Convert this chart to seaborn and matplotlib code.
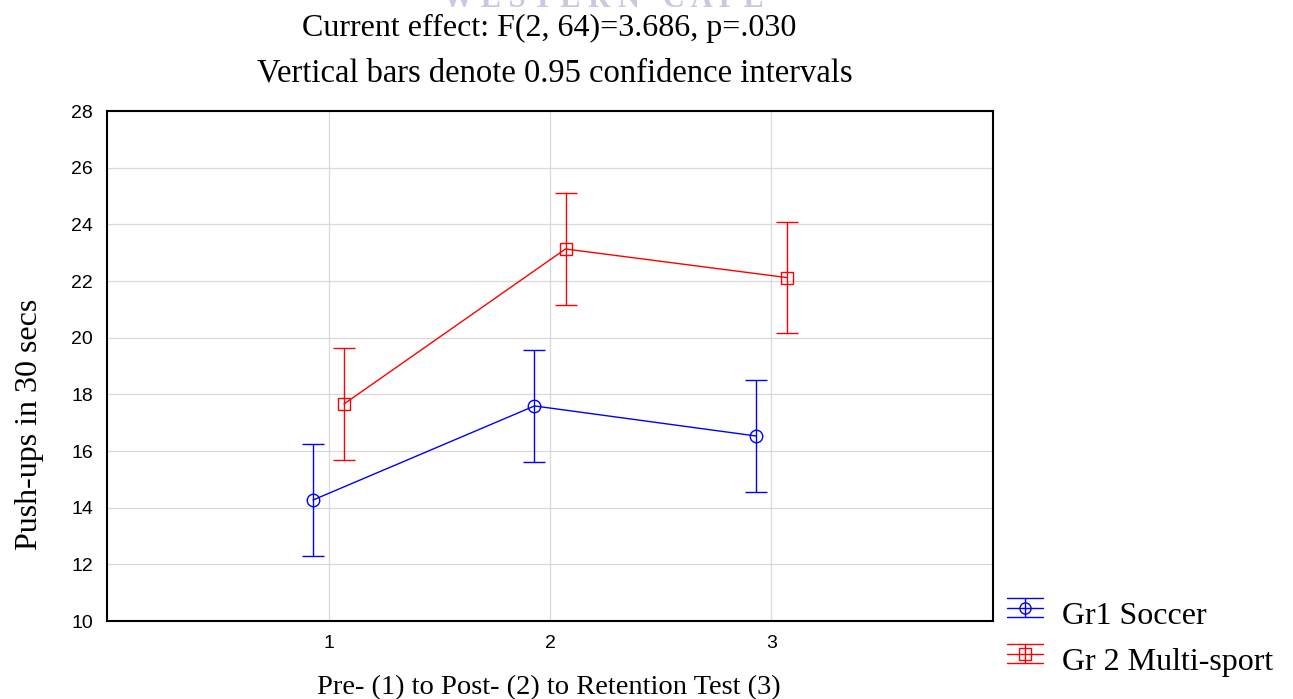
import numpy as np
import pandas as pd
import matplotlib
matplotlib.use("Agg")
import matplotlib.pyplot as plt
from matplotlib.lines import Line2D
from matplotlib.legend_handler import HandlerBase
import seaborn as sns

# ---- data ----
tests = [1, 2, 3]
groups = ["Gr1 Soccer", "Gr 2 Multi-sport"]
soccer_mean = [14.27, 17.59, 16.53]
soccer_ci = [1.98, 1.98, 1.98]
multi_mean = [17.66, 23.13, 22.12]
multi_ci = [1.97, 1.97, 1.97]
y_ticks = [10, 12, 14, 16, 18, 20, 22, 24, 26, 28]
x_ticks = [1, 2, 3]

colors = {"Gr1 Soccer": "#0000ff", "Gr 2 Multi-sport": "#ff0000"}
markers = {"Gr1 Soccer": "o", "Gr 2 Multi-sport": "s"}
offsets = {"Gr1 Soccer": -0.07, "Gr 2 Multi-sport": 0.07}

df = pd.DataFrame({
    "test": tests * 2,
    "group": [groups[0]] * 3 + [groups[1]] * 3,
    "mean": soccer_mean + multi_mean,
    "ci": soccer_ci + multi_ci,
})
df["xpos"] = df["test"] + df["group"].map(offsets)

sns.set_style("whitegrid")
plt.rcParams["font.family"] = ["Liberation Serif", "DejaVu Serif"]
plt.rcParams["text.color"] = "black"
plt.rcParams["xtick.color"] = "black"
plt.rcParams["ytick.color"] = "black"

fig = plt.figure(figsize=(12.93, 6.99), dpi=100)
ax = fig.add_axes([107 / 1293, 1 - 621 / 699, (993 - 107) / 1293, (621 - 111) / 699])

for g in groups:
    sub = df[df["group"] == g]
    cont = ax.errorbar(sub["xpos"], sub["mean"], yerr=sub["ci"], fmt="none",
                       ecolor=colors[g], elinewidth=1.0, capsize=8, capthick=1.0, zorder=3)
    for cap in cont[1]:
        cap.set_color(colors[g])
        cap.set_markeredgecolor(colors[g])
        cap.set_markerfacecolor(colors[g])

sns.lineplot(data=df, x="xpos", y="mean", hue="group", style="group",
             palette=colors, markers=markers, dashes=False, sort=False,
             linewidth=1.0, markersize=9, markerfacecolor="none",
             markeredgewidth=1.0, legend=False, ax=ax, zorder=4)
for ln in ax.lines:
    if ln.get_linestyle() != "None":
        ln.set_markeredgecolor(ln.get_color())
        ln.set_markerfacecolor("none")

ax.set_xlim(0, 4)
ax.set_ylim(10, 28)
ax.set_xticks(x_ticks)
ax.set_yticks(y_ticks)
ax.set_xticklabels([str(t) for t in x_ticks], family="Liberation Sans", fontsize=14, color="black")
ax.set_yticklabels([str(t) for t in y_ticks], family="Liberation Sans", fontsize=14, color="black")
ax.tick_params(axis="both", direction="in", length=4, width=0.8, color="black", pad=10)
ax.grid(True, color="#d9d9d9", linewidth=0.9)
for s in ax.spines.values():
    s.set_color("black")
    s.set_linewidth(1.5)

ax.set_xlabel("")
ax.set_ylabel("")
fig.text(549 / 1293, 1 - 688 / 699, "Pre- (1) to Post- (2) to Retention Test (3)",
         ha="center", va="center", fontsize=20.5, color="black")
fig.text(29 / 1293, 1 - 424 / 699, "Push-ups in 30 secs", rotation=90,
         ha="center", va="center", fontsize=23, color="black")

fig.text(549.5 / 1293, 1 - 28 / 699, "Current effect: F(2, 64)=3.686, p=.030",
         ha="center", va="center", fontsize=23, color="black")
fig.text(554.5 / 1293, 1 - 73 / 699, "Vertical bars denote 0.95 confidence intervals",
         ha="center", va="center", fontsize=23.5, color="black")
fig.text(603 / 1293, 1 - 7 / 699, "W E S T E R N   C A P E", ha="center", va="baseline",
         fontsize=22, color="#c8c8e2", fontweight="bold")


class ErrHandler(HandlerBase):
    def __init__(self, color, marker):
        super().__init__()
        self.color = color
        self.marker = marker

    def create_artists(self, legend, orig_handle, xd, yd, width, height, fontsize, trans):
        x0 = xd
        x1 = xd + width
        cx = (x0 + x1) / 2
        mid = yd + height / 2 + 0.22 * height
        half = 0.42 * height
        top = mid + half
        bot = mid - half
        arts = [
            Line2D([x0, x1], [top, top], color=self.color, lw=1.0),
            Line2D([x0, x1], [mid, mid], color=self.color, lw=1.0),
            Line2D([x0, x1], [bot, bot], color=self.color, lw=1.0),
            Line2D([cx, cx], [bot, top], color=self.color, lw=1.0),
            Line2D([cx], [mid], color=self.color, marker=self.marker, markersize=8,
                   markerfacecolor="none", markeredgecolor=self.color, lw=0),
        ]
        for a in arts:
            a.set_transform(trans)
        return arts


handles = [Line2D([], [], color=colors[g]) for g in groups]
hmap = {h: ErrHandler(colors[g], markers[g]) for h, g in zip(handles, groups)}
fig.legend(handles, groups, handler_map=hmap, loc="upper left",
           bbox_to_anchor=(997 / 1293, 1 - 592 / 699), frameon=False,
           fontsize=23, handlelength=1.13, handleheight=0.7, labelspacing=0.52,
           handletextpad=0.6, borderaxespad=0, borderpad=0.3)

fig.savefig("out.png", dpi=100, facecolor="white")
